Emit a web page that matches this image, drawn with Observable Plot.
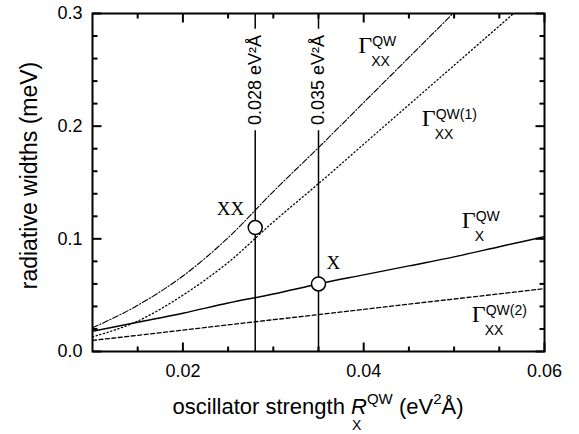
<!DOCTYPE html>
<html><head><meta charset="utf-8">
<script src="https://cdn.jsdelivr.net/npm/d3@7"></script>
<script src="https://cdn.jsdelivr.net/npm/@observablehq/plot@0.6"></script>
<style>body{margin:0;background:#fff;overflow:hidden}</style>
</head><body><div id="chart"></div>
<script>
// oscillator strength samples (eV^2 Å)
const R = [0.01, 0.015, 0.02, 0.025, 0.03, 0.035, 0.04, 0.045, 0.05, 0.055, 0.06];
// radiative widths (meV)
const gammaXX  = [0.021, 0.041, 0.067, 0.101, 0.142, 0.181, 0.221, 0.261, 0.301, 0.341, 0.381];
const gammaXX1 = [0.013, 0.027, 0.050, 0.079, 0.115, 0.149, 0.184, 0.219, 0.254, 0.289, 0.324];
const gammaX   = [0.018, 0.026, 0.034, 0.043, 0.051, 0.060, 0.068, 0.076, 0.084, 0.093, 0.102];
const gammaXX2 = [0.0098, 0.0144, 0.019, 0.0236, 0.0282, 0.0328, 0.0374, 0.042, 0.0466, 0.0512, 0.0558];

const vLines = [0.028, 0.035];
const vLabels = ["0.028 eV²Å", "0.035 eV²Å"];
const vGap = [0.196, 0.286];
const vLabelY = 0.241;

const pointR = [0.028, 0.035];
const pointV = [0.11, 0.06];
const pointText = ["XX", "X"];

const xMajor = [0.02, 0.04, 0.06];
const xMinor = [0.015, 0.025, 0.03, 0.035, 0.045, 0.05, 0.055];
const yMajor = [0, 0.1, 0.2, 0.3];
const yMinor = [0.02, 0.04, 0.06, 0.08, 0.12, 0.14, 0.16, 0.18, 0.22, 0.24, 0.26, 0.28];

const gLabelR = [0.03945, 0.04647, 0.0509, 0.0520];
const gLabelV = [0.2642, 0.1995, 0.1088, 0.026];
const gLabelSup = ["QW", "QW(1)", "QW", "QW(2)"];
const gLabelSub = ["XX", "XX", "X", "XX"];

const yLabel = "radiative widths (meV)";

const SANS = "'Liberation Sans', Arial, Helvetica, sans-serif";
const SERIF = "'Liberation Serif', 'Times New Roman', serif";

const W = 579, H = 434, ML = 92, MR = 35, MT = 13, MB = 83;
const FW = W - ML - MR, FH = H - MT - MB;
const X0 = 0.01, X1 = 0.06, Y0 = 0, Y1 = 0.3;

const rows = vals => R.map((r, i) => ({r, v: vals[i]}));
const line = (vals, o) => Plot.line(rows(vals), {x: "r", y: "v", curve: "monotone-x", clip: true, stroke: "black", ...o});

// inward tick marks on all four sides, drawn as short link paths
const tickRows = [];
for (const [vals, len] of [[xMajor, 9], [xMinor, 5]]) {
  const d = (Y1 - Y0) * len / FH;
  for (const v of vals) {
    tickRows.push({x1: v, y1: Y0, x2: v, y2: Y0 + d});
    tickRows.push({x1: v, y1: Y1, x2: v, y2: Y1 - d});
  }
}
for (const [vals, len] of [[yMajor, 9], [yMinor, 5]]) {
  const d = (X1 - X0) * len / FW;
  for (const v of vals) {
    tickRows.push({x1: X0, y1: v, x2: X0 + d, y2: v});
    tickRows.push({x1: X1, y1: v, x2: X1 - d, y2: v});
  }
}

const plot = Plot.plot({
  width: W, height: H,
  marginLeft: ML, marginRight: MR, marginTop: MT, marginBottom: MB,
  x: {domain: [X0, X1]},
  y: {domain: [Y0, Y1]},
  style: {fontFamily: SANS, fontSize: "18px", color: "black", background: "white"},
  marks: [
    line(gammaXX2, {strokeWidth: 1.3, strokeDasharray: "4,2.5"}),
    line(gammaX, {strokeWidth: 1.5}),
    line(gammaXX1, {strokeWidth: 1.3, strokeDasharray: "1.2,2.6"}),
    line(gammaXX, {strokeWidth: 1.1, strokeDasharray: "6,2,1.2,2"}),
    Plot.ruleX(vLines, {y1: 0, y2: vGap[0], strokeWidth: 1.5}),
    Plot.ruleX(vLines, {y1: vGap[1], y2: 0.3, strokeWidth: 1.5}),
    Plot.text(vLines, {x: d => d, y: () => vLabelY, text: (d, i) => vLabels[i], rotate: -90, fontSize: 18}),
    Plot.dot(pointR, {x: d => d, y: (d, i) => pointV[i], r: 7, fill: "white", stroke: "black", strokeWidth: 1.5}),
    Plot.text([pointR[0]], {x: d => d, y: () => pointV[0], text: () => pointText[0],
      textAnchor: "end", dx: -11, dy: -19, fontFamily: SERIF, fontSize: 19}),
    Plot.text([pointR[1]], {x: d => d, y: () => pointV[1], text: () => pointText[1],
      textAnchor: "start", dx: 8, dy: -21, fontFamily: SERIF, fontSize: 19}),
    Plot.axisX({ticks: xMajor, anchor: "bottom", tickSize: 0, tickPadding: 13, tickFormat: d => d.toFixed(2), label: null, fontSize: 18}),
    Plot.axisY({ticks: yMajor, anchor: "left", tickSize: 0, tickPadding: 10, tickFormat: d => d.toFixed(1), label: null, fontSize: 18}),
    Plot.link(tickRows, {x1: "x1", y1: "y1", x2: "x2", y2: "y2", stroke: "black", strokeWidth: 2}),
    Plot.frame({stroke: "black", strokeWidth: 2}),
    Plot.text([yLabel], {frameAnchor: "left", textAnchor: "middle", rotate: -90, dx: -63, dy: -7, fontSize: 23})
  ]
});
plot.style.display = "block";
document.getElementById("chart").appendChild(plot);

const svg = d3.select(plot);
const xs = plot.scale("x"), ys = plot.scale("y");

// Gamma labels with super/subscripts (one text element each)
const gl = svg.append("g").attr("text-anchor", "start");
gLabelR.forEach((r, i) => {
  const px = xs.apply(r), py = ys.apply(gLabelV[i]);
  const t = gl.append("text").attr("x", px).attr("y", py);
  t.append("tspan").attr("font-family", SERIF).attr("font-size", 24).text("Γ");
  t.append("tspan").attr("x", px + 14).attr("dy", -7)
    .attr("font-family", SANS).attr("font-size", 14).text(gLabelSup[i]);
  t.append("tspan").attr("x", px + 13).attr("dy", 20)
    .attr("font-family", SANS).attr("font-size", 14).text(gLabelSub[i]);
});

// x-axis label with italic R and sub/superscripts
const xl = svg.append("text").attr("text-anchor", "start").attr("y", 414)
  .attr("font-family", SANS).attr("font-size", 22);
xl.append("tspan").text("oscillator strength ");
xl.append("tspan").attr("font-style", "italic").text("R");
xl.append("tspan").attr("font-size", 15).attr("dy", -10).text("QW");
xl.append("tspan").attr("dy", 10).text(" (eV");
xl.append("tspan").attr("font-size", 15).attr("dy", -10).text("2");
xl.append("tspan").attr("dy", 10).text("Å)");
const total = xl.node().getComputedTextLength();
const cx = (xs.range[0] + xs.range[1]) / 2;
xl.attr("x", cx - total / 2);
const rx = xl.node().getStartPositionOfChar(20).x;
svg.append("text").attr("text-anchor", "start").attr("x", rx + 1).attr("y", 430)
  .attr("font-family", SANS).attr("font-size", 14).text("X");
</script>
</body></html>
